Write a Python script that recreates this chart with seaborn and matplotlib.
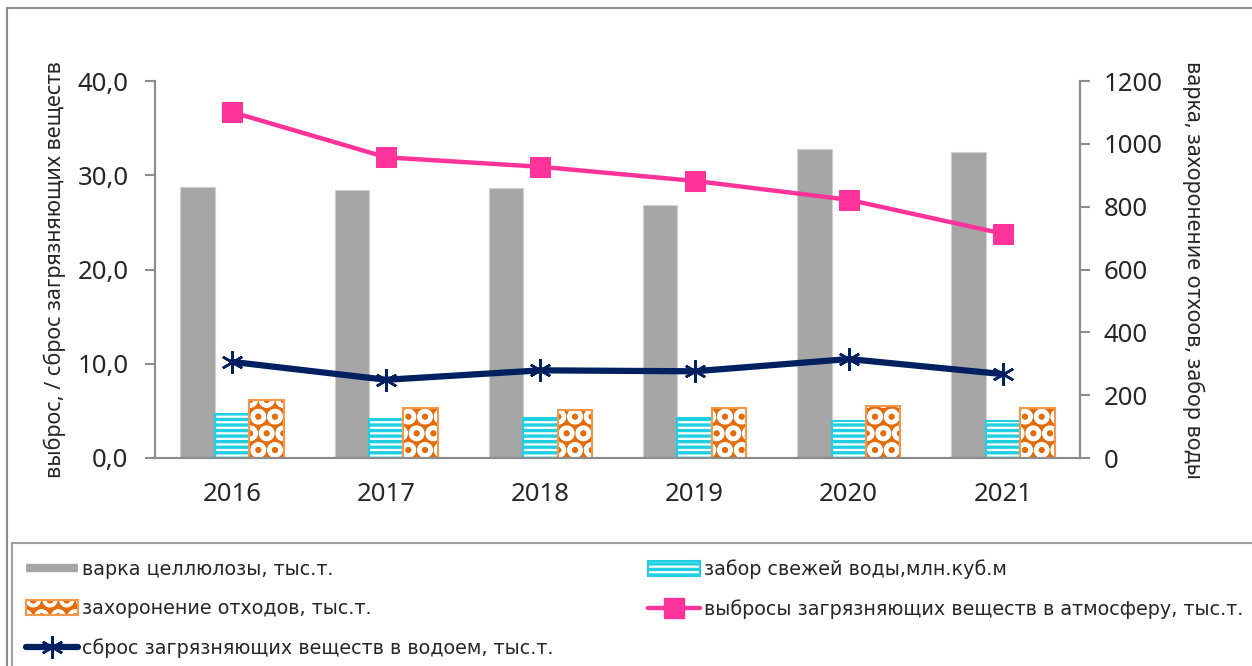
import numpy as np
import pandas as pd
import matplotlib
matplotlib.use("Agg")
import matplotlib.pyplot as plt
import matplotlib.colors as mcolors
from matplotlib.patches import Rectangle, Patch
from matplotlib.lines import Line2D
from matplotlib.ticker import FuncFormatter
import seaborn as sns

# значения
years = ["2016", "2017", "2018", "2019", "2020", "2021"]
pulp = [862, 853, 860, 805, 984, 974]          # правая ось
water = [140, 124, 127, 127, 118, 118]         # правая ось
waste = [185, 159, 153, 159, 166, 160]         # правая ось
air = [36.7, 31.9, 30.9, 29.4, 27.4, 23.8]     # левая ось
discharge = [10.2, 8.3, 9.3, 9.2, 10.5, 8.9]   # левая ось

bar_labels = ["варка целлюлозы, тыс.т.",
              "забор свежей воды,млн.куб.м",
              "захоронение отходов, тыс.т."]
air_label = "выбросы загрязняющих веществ в атмосферу, тыс.т."
discharge_label = "сброс загрязняющих веществ в водоем, тыс.т."

GREY = "#A6A6A6"
CYAN = "#22CFE2"
ORANGE = "#E46C0A"
ORANGE_EDGE = "#F79646"
PINK = "#FF3399"
NAVY = "#002060"
AXIS = "#8C8C8C"

sns.set_style("white")
plt.rcParams["font.family"] = ["Noto Sans", "DejaVu Sans"]
plt.rcParams["hatch.linewidth"] = 2.4

white = mcolors.to_rgba("white")


def dotted(p):
    # белые круги на оранжевом фоне
    p._hatch_color = white
    if hasattr(p, "set_hatch_linewidth"):
        p.set_hatch_linewidth(3.0)
    else:
        p._hatch_linewidth = 3.0


df = pd.DataFrame({
    "year": years * 3,
    "series": [bar_labels[0]] * 6 + [bar_labels[1]] * 6 + [bar_labels[2]] * 6,
    "value": pulp + water + waste,
})

fig = plt.figure(figsize=(12.52, 6.66), dpi=100)
ax = fig.add_axes([155 / 1252, 1 - 458 / 666, 925 / 1252, 377 / 666])
ax2 = ax.twinx()

sns.barplot(data=df, x="year", y="value", hue="series", hue_order=bar_labels,
            palette=[GREY, CYAN, ORANGE], width=0.67, saturation=1,
            legend=False, ax=ax2)

for p in ax2.containers[0]:
    p.set_facecolor(GREY)
    p.set_edgecolor("#D0D0D0")
    p.set_linewidth(0.8)
for p in ax2.containers[1]:
    p.set_facecolor("white")
    p.set_edgecolor(CYAN)
    p.set_hatch("---")
    p.set_linewidth(1.5)
for p in ax2.containers[2]:
    p.set_facecolor(ORANGE)
    p.set_edgecolor(ORANGE_EDGE)
    p.set_hatch("O")
    p.set_linewidth(1.5)
    dotted(p)

x = np.arange(len(years))
sns.lineplot(x=x, y=air, ax=ax, color=PINK, linewidth=3.2, marker="s",
             markersize=14, markeredgecolor=PINK)
sns.lineplot(x=x, y=discharge, ax=ax, color=NAVY, linewidth=4.5,
             marker=(6, 2, 0), markersize=16, markeredgewidth=1.8,
             markeredgecolor=NAVY)

ax.set_zorder(ax2.get_zorder() + 1)
ax.patch.set_visible(False)

ax.set_xlim(-0.5, 5.5)
ax.set_ylim(0, 40)
ax2.set_ylim(0, 1200)
ax.set_yticks([0, 10, 20, 30, 40])
ax2.set_yticks([0, 200, 400, 600, 800, 1000, 1200])
ax.yaxis.set_major_formatter(FuncFormatter(lambda v, _: f"{v:.1f}".replace(".", ",")))

ax.set_xticks(x)
ax.set_xticklabels(years)
ax.set_xticks(np.arange(len(years) + 1) - 0.5, minor=True)
ax.tick_params(axis="x", which="major", length=0, pad=17, labelsize=18.5)
ax.tick_params(axis="x", which="minor", length=8, width=1.5, color=AXIS, direction="out")
ax.tick_params(axis="y", length=7, width=1.5, color=AXIS, direction="out", labelsize=18.5, pad=12)
ax2.tick_params(axis="y", length=7, width=1.5, color=AXIS, direction="out", labelsize=18.5, pad=10)

for a in (ax, ax2):
    for side in ("left", "right", "bottom"):
        a.spines[side].set_color(AXIS)
        a.spines[side].set_linewidth(1.5)
    a.spines["top"].set_visible(False)
    a.set_xlabel("")

ax.set_ylabel("выброс, / сброс загрязняющих веществ", fontsize=15.5, labelpad=8)
ax2.set_ylabel("варка, захоронение отхоов, забор воды", fontsize=15.5,
               rotation=-90, va="bottom", labelpad=14)

# рамки области диаграммы и легенды
fig.add_artist(Rectangle((7 / 1252, -0.1), 1.2, 1.1 - 8 / 666, transform=fig.transFigure,
                         fill=False, edgecolor="#8C8C8C", linewidth=1.5))
fig.add_artist(Rectangle((12 / 1252, -0.1), 1.2, 1.1 - 543 / 666, transform=fig.transFigure,
                         fill=False, edgecolor="#A0A0A0", linewidth=1.5))

h_pulp = Line2D([], [], color=GREY, linewidth=6, solid_capstyle="butt")
h_water = Patch(facecolor="white", edgecolor=CYAN, hatch="---", linewidth=1.5)
h_waste = Patch(facecolor=ORANGE, edgecolor=ORANGE_EDGE, hatch="O", linewidth=1.5)
dotted(h_waste)
h_air = Line2D([], [], color=PINK, linewidth=3.2, marker="s", markersize=14)
h_dis = Line2D([], [], color=NAVY, linewidth=4.5, marker=(6, 2, 0), markersize=16,
               markeredgewidth=1.8)

fig.legend([h_pulp, h_waste, h_dis, h_water, h_air],
           [bar_labels[0], bar_labels[2], discharge_label, bar_labels[1], air_label],
           loc="upper left", bbox_to_anchor=(18 / 1252, 1 - 552 / 666), ncol=2,
           frameon=False, handlelength=2.75, handleheight=0.85, handletextpad=0.2,
           labelspacing=1.05, columnspacing=4.9, borderaxespad=0,
           prop={"family": ["DejaVu Sans"], "size": 13.8})

fig.savefig("out.png", dpi=100)
